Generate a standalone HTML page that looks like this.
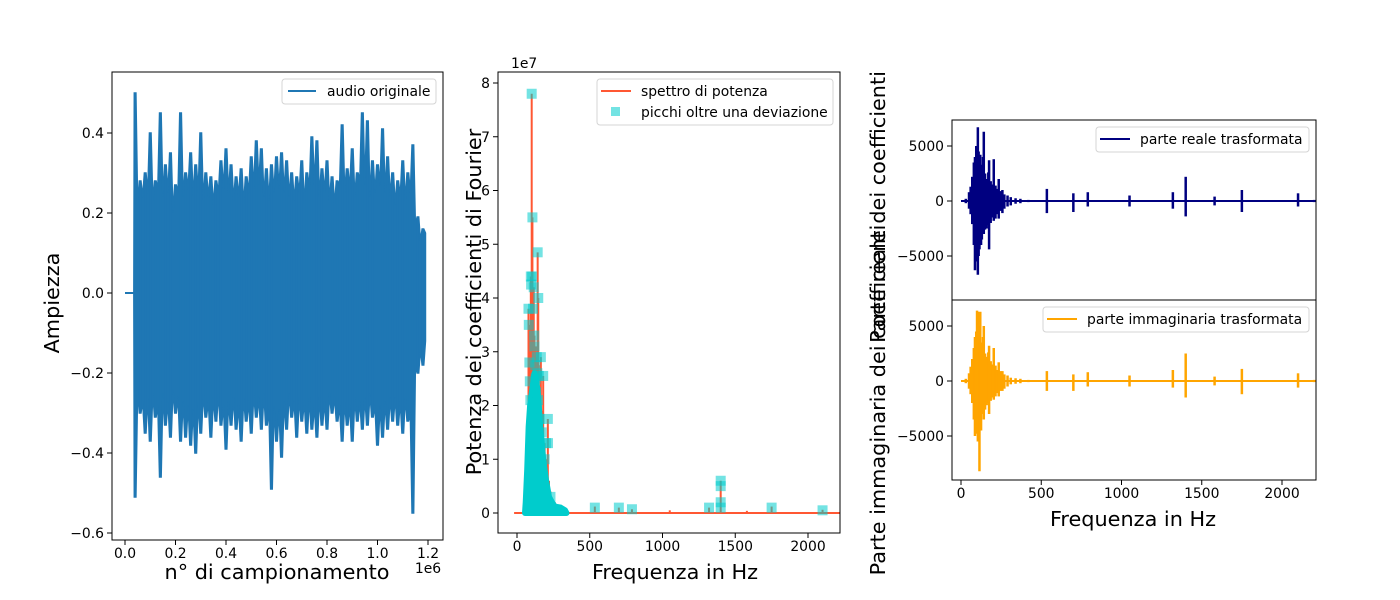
<!DOCTYPE html>
<html><head><meta charset="utf-8"><style>
html,body{margin:0;padding:0;background:#fff;}
svg{display:block;font-family:"DejaVu Sans","Liberation Sans",sans-serif;}
</style></head><body>
<svg id="fig" width="1400" height="600" viewBox="0 0 1400 600" xmlns="http://www.w3.org/2000/svg"></svg>
<script>
// ---------- Panel 1 data (audio) ----------
const audioX = [0.04,0.06,0.08,0.10,0.12,0.14,0.16,0.18,0.20,0.22,0.24,0.26,0.28,0.30,0.32,0.34,0.36,0.38,0.40,0.42,0.44,0.46,0.48,0.50,0.52,0.54,0.56,0.58,0.60,0.62,0.64,0.66,0.68,0.70,0.72,0.74,0.76,0.78,0.80,0.82,0.84,0.86,0.88,0.90,0.92,0.94,0.96,0.98,1.00,1.02,1.04,1.06,1.08,1.10,1.12,1.14,1.16,1.18];
const audioMax = [0.50,0.28,0.30,0.40,0.28,0.45,0.32,0.35,0.27,0.45,0.30,0.35,0.32,0.40,0.30,0.29,0.28,0.33,0.36,0.32,0.29,0.31,0.29,0.34,0.38,0.36,0.31,0.32,0.34,0.35,0.33,0.30,0.29,0.33,0.30,0.39,0.38,0.31,0.33,0.29,0.28,0.42,0.31,0.36,0.30,0.45,0.43,0.33,0.32,0.41,0.34,0.30,0.28,0.33,0.30,0.37,0.19,0.16];
const audioMin = [-0.51,-0.30,-0.35,-0.37,-0.31,-0.46,-0.33,-0.36,-0.30,-0.37,-0.36,-0.38,-0.40,-0.35,-0.31,-0.36,-0.32,-0.33,-0.39,-0.33,-0.34,-0.37,-0.32,-0.35,-0.31,-0.34,-0.33,-0.49,-0.37,-0.41,-0.34,-0.31,-0.36,-0.32,-0.35,-0.34,-0.36,-0.33,-0.34,-0.30,-0.32,-0.37,-0.33,-0.37,-0.32,-0.34,-0.33,-0.31,-0.38,-0.36,-0.34,-0.32,-0.33,-0.35,-0.32,-0.55,-0.20,-0.18];
// typical envelope level between the spikes (one per gap)
const audioCoreTop = [0.22,0.24,0.25,0.23,0.26,0.24,0.25,0.20,0.25,0.24,0.26,0.24,0.25,0.23,0.24,0.22,0.25,0.26,0.25,0.23,0.24,0.22,0.25,0.26,0.27,0.24,0.23,0.25,0.26,0.25,0.24,0.23,0.25,0.22,0.26,0.27,0.24,0.25,0.23,0.22,0.27,0.25,0.26,0.24,0.28,0.27,0.24,0.25,0.27,0.25,0.24,0.22,0.24,0.23,0.25,0.17,0.13];
const audioCoreBot = [-0.24,-0.27,-0.26,-0.25,-0.28,-0.25,-0.27,-0.24,-0.26,-0.27,-0.28,-0.29,-0.27,-0.25,-0.27,-0.26,-0.25,-0.28,-0.27,-0.26,-0.28,-0.26,-0.27,-0.25,-0.26,-0.25,-0.29,-0.28,-0.29,-0.27,-0.25,-0.27,-0.26,-0.27,-0.26,-0.28,-0.26,-0.27,-0.25,-0.26,-0.28,-0.27,-0.28,-0.26,-0.27,-0.26,-0.25,-0.28,-0.28,-0.27,-0.26,-0.26,-0.27,-0.26,-0.30,-0.18,-0.14];
const audioXTicks = [0,0.2,0.4,0.6,0.8,1.0,1.2];
const audioXTickLabels = ["0.0","0.2","0.4","0.6","0.8","1.0","1.2"];
const audioYTicks = [-0.6,-0.4,-0.2,0,0.2,0.4];
const audioYTickLabels = ["\u22120.6","\u22120.4","\u22120.2","0.0","0.2","0.4"];

// ---------- Panel 2 data (power spectrum, 1e7) ----------
const specFreq = [60,70,79,85,90,95,101,106,110,115,120,125,130,136,142,146,150,155,164,170,180,190,200,212,220,230,260,300,535,700,790,1050,1320,1400,1580,1750,2100];
const specPower = [0.8,1.6,3.8,2.8,3.5,4.4,7.8,5.5,3.8,4.2,3.3,2.5,3.1,2.9,4.85,4.0,2.75,2.3,2.9,1.9,2.55,1.3,1.0,1.75,0.6,0.4,0.2,0.1,0.12,0.1,0.07,0.05,0.1,0.6,0.04,0.12,0.06];
const peakFreq = [79,81,85,88,92,95,97,101,104,106,110,115,118,120,125,128,130,136,140,142,144,146,150,155,164,170,180,190,200,212,213,230,535,700,790,1320,1400,1400,1400,1400,1750,2100];
const peakPower = [3.8,3.5,2.8,2.45,2.1,4.4,4.25,7.8,4.4,5.5,3.8,4.2,3.3,3.1,2.75,2.5,2.25,2.9,2.6,4.85,2.1,4.0,2.55,1.75,2.9,1.5,2.55,1.0,1.3,1.75,1.3,0.3,0.1,0.1,0.07,0.1,0.6,0.5,0.2,0.1,0.1,0.05];
const blobFreq = [55,60,70,80,90,100,110,120,130,140,150,160,170,180,190,200,210,220,240,260,300,330,340];
const blobHeight = [0,0.2,0.8,1.6,2.0,2.2,2.4,2.6,2.5,2.3,2.0,1.6,1.3,1.0,0.8,0.6,0.45,0.3,0.2,0.12,0.1,0.05,0];
const specXTicks = [0,500,1000,1500,2000];
const specYTicks = [0,1,2,3,4,5,6,7,8];

// ---------- Panel 3 data (real / imaginary parts) ----------
const fftFreq = [30,50,60,70,80,87,95,100,105,110,115,120,125,130,137,142,150,160,170,175,185,195,204,215,225,235,245,258,270,290,310,340,370,420,535,700,790,1050,1320,1400,1580,1750,2100,2200];
const realMax = [200,800,1300,2200,3500,4000,5000,3900,6700,4500,3800,4200,3000,3300,4000,6300,2500,2000,2600,3700,1800,1500,3800,1400,1100,2000,900,1000,600,500,350,250,200,100,1100,700,800,500,800,2200,400,1000,700,100];
const realMin = [-200,-700,-1200,-2100,-4000,-6300,-5500,-3800,-6700,-5000,-4400,-3600,-4000,-3500,-2800,-3000,-2600,-2500,-2200,-4400,-2000,-1500,-1800,-1600,-1200,-1600,-900,-1100,-700,-500,-400,-250,-200,-100,-1100,-1000,-500,-500,-700,-1400,-400,-1000,-500,-100];
const imagMax = [200,700,1300,2000,3000,4000,4500,6400,6300,5000,4000,6300,3000,3500,4000,5000,2500,2200,2600,3200,1800,1500,3000,1400,1000,1700,900,900,600,500,300,250,200,100,900,600,800,500,1000,2500,400,1100,700,100];
const imagMin = [-200,-700,-1200,-2000,-3500,-5000,-4800,-3800,-5500,-4500,-8200,-3600,-4500,-3000,-3000,-3500,-2600,-2200,-2000,-3000,-1800,-1500,-1700,-1400,-1100,-1400,-900,-900,-700,-500,-300,-250,-200,-100,-900,-900,-500,-500,-600,-1500,-400,-1200,-600,-100];
const fftXTicks = [0,500,1000,1500,2000];
const fftYTicks = [-5000,0,5000];
const fftYTickLabels = ["\u22125000","0","5000"];

const NS = "http://www.w3.org/2000/svg";
const svg = document.getElementById('fig');
function mk(tag, attrs, parent, text){
  const e = document.createElementNS(NS, tag);
  for (const k in attrs) e.setAttribute(k, attrs[k]);
  if (text !== undefined) e.textContent = text;
  (parent || svg).appendChild(e);
  return e;
}
function lin(d0,d1,r0,r1){ return v => r0 + (v-d0)*(r1-r0)/(d1-d0); }

// ===== Panel 1 =====
const g1 = mk('g', {});


const x1 = lin(0,1.2,125,428), y1 = lin(0,0.4,293,133);
{
  let pts = [[x1(0),y1(0)],[x1(0.035),y1(0)]];
  audioX.forEach((v,i)=>{
    pts.push([x1(v)-0.8,y1(audioMax[i])],[x1(v)+0.8,y1(audioMax[i])]);
    if (i < audioCoreTop.length) pts.push([x1(v+0.01),y1(audioCoreTop[i])]);
  });
  pts.push([x1(1.19),y1(0.15)],[x1(1.19),y1(-0.12)]);
  for (let i=audioX.length-1;i>=0;i--) {
    if (i < audioCoreBot.length) pts.push([x1(audioX[i]+0.01),y1(audioCoreBot[i])]);
    pts.push([x1(audioX[i])+0.8,y1(audioMin[i])],[x1(audioX[i])-0.8,y1(audioMin[i])]);
  }
  pts.push([x1(0.035),y1(0)]);
  const p = mk('polygon', {points: pts.map(q=>q.join(',')).join(' '), fill:'#1f77b4', stroke:'#1f77b4', 'stroke-width':1.5, 'stroke-linejoin':'miter'}, g1);
  
  
  mk('line',{x1:x1(0),y1:y1(0),x2:x1(0.04),y2:y1(0),stroke:'#1f77b4','stroke-width':2},g1);
  audioX.forEach((v,i)=>{
    const l = mk('line',{x1:x1(v),y1:y1(audioMin[i]),x2:x1(v),y2:y1(audioMax[i]),stroke:'#1f77b4','stroke-width':2},g1);
    
    
  });
}
mk('rect',{x:112,y:72,width:331,height:468,fill:'none',stroke:'#000','stroke-width':1},g1);
audioXTicks.forEach((t,i)=>{
  mk('line',{x1:x1(t),y1:540,x2:x1(t),y2:545,stroke:'#000'},g1);
  const tx = mk('text',{x:x1(t),y:558,'font-size':13.9,'text-anchor':'middle'},g1,audioXTickLabels[i]);
  
  
});
audioYTicks.forEach((t,i)=>{
  mk('line',{x1:107,y1:y1(t),x2:112,y2:y1(t),stroke:'#000'},g1);
  const tx = mk('text',{x:104,y:y1(t)+5,'font-size':13.9,'text-anchor':'end'},g1,audioYTickLabels[i]);
  
  
});
mk('text',{x:428,y:573,'font-size':13.9,'text-anchor':'middle'},g1,'1e6');
let t;
t = mk('text',{x:277,y:579,'font-size':20.8,'text-anchor':'middle'},g1,'n\u00b0 di campionamento');
 
t = mk('text',{x:59,y:303,'font-size':20.8,'text-anchor':'middle',transform:'rotate(-90 59 303)'},g1,'Ampiezza');
 
{
  const lg = mk('g',{},g1);
   
  mk('rect',{x:282,y:79,width:154,height:25,rx:3,fill:'#fff',stroke:'#d5d5d5'},lg);
  mk('line',{x1:288,y1:91,x2:316,y2:91,stroke:'#1f77b4','stroke-width':2},lg);
  mk('text',{x:327,y:96,'font-size':13.9},lg,'audio originale');
}

// ===== Panel 2 =====
const g2 = mk('g', {});


const x2 = lin(0,2000,517,808), y2 = lin(0,8,513,83);
mk('line',{x1:x2(-20),y1:y2(0),x2:840,y2:y2(0),stroke:'#ff5733','stroke-width':2},g2);
specFreq.forEach((f,i)=>{
  const l = mk('line',{x1:x2(f),y1:y2(0),x2:x2(f),y2:y2(specPower[i]),stroke:'#ff5733','stroke-width':2},g2);
  
  
});
{
  let pts = blobFreq.map((f,i)=>[x2(f),y2(blobHeight[i])]);
  const p = mk('polygon',{points:pts.map(q=>q.join(',')).join(' '),fill:'#00cccc',stroke:'#00cccc','stroke-width':6,'stroke-linejoin':'round'},g2);
  
  
}
peakFreq.forEach((f,i)=>{
  const r = mk('rect',{x:x2(f)-5,y:y2(peakPower[i])-5,width:10,height:10,fill:'#00cccc','fill-opacity':0.55},g2);
  
  
});
mk('rect',{x:498,y:72,width:342,height:461,fill:'none',stroke:'#000'},g2);
specXTicks.forEach(v=>{
  mk('line',{x1:x2(v),y1:533,x2:x2(v),y2:538,stroke:'#000'},g2);
  const tx = mk('text',{x:x2(v),y:551,'font-size':13.9,'text-anchor':'middle'},g2,String(v));
   
});
specYTicks.forEach(v=>{
  mk('line',{x1:493,y1:y2(v),x2:498,y2:y2(v),stroke:'#000'},g2);
  const tx = mk('text',{x:490,y:y2(v)+5,'font-size':13.9,'text-anchor':'end'},g2,String(v));
   
});
mk('text',{x:511,y:68,'font-size':13.9},g2,'1e7');
t = mk('text',{x:675,y:579,'font-size':20.8,'text-anchor':'middle'},g2,'Frequenza in Hz');
 
t = mk('text',{x:481,y:302,'font-size':20.8,'text-anchor':'middle',transform:'rotate(-90 481 302)'},g2,'Potenza dei coefficienti di Fourier');
 
{
  const lg = mk('g',{},g2);
   
  mk('rect',{x:597,y:79,width:236,height:46,rx:3,fill:'#fff',stroke:'#d5d5d5'},lg);
  mk('line',{x1:601,y1:91,x2:631,y2:91,stroke:'#ff5733','stroke-width':2},lg);
  mk('text',{x:641,y:96,'font-size':13.9},lg,'spettro di potenza');
  mk('rect',{x:611,y:107,width:9,height:9,fill:'#00cccc','fill-opacity':0.55},lg);
  mk('text',{x:641,y:117,'font-size':13.9},lg,'picchi oltre una deviazione');
}

// ===== Panel 3 =====
function fftPanel(name, top, bottom, maxArr, minArr, color, legendText, lx, showX){
  const g = mk('g', {});
  
  
  const zero = top + 81;
  const x3 = lin(0,2000,961,1282), y3 = lin(0,5000,zero,zero-55);
  mk('line',{x1:x3(0),y1:y3(0),x2:1316,y2:y3(0),stroke:color,'stroke-width':2},g);
  fftFreq.forEach((f,i)=>{
    const l = mk('line',{x1:x3(f),y1:y3(minArr[i]),x2:x3(f),y2:y3(maxArr[i]),stroke:color,'stroke-width':2.5},g);
    
    
  });
  mk('rect',{x:952,y:top,width:364,height:bottom-top,fill:'none',stroke:'#000'},g);
  fftYTicks.forEach((v,i)=>{
    mk('line',{x1:947,y1:y3(v),x2:952,y2:y3(v),stroke:'#000'},g);
    const tx = mk('text',{x:944,y:y3(v)+5,'font-size':13.9,'text-anchor':'end'},g,fftYTickLabels[i]);
     
  });
  if (showX) fftXTicks.forEach(v=>{
    mk('line',{x1:x3(v),y1:bottom,x2:x3(v),y2:bottom+5,stroke:'#000'},g);
    const tx = mk('text',{x:x3(v),y:bottom+18,'font-size':13.9,'text-anchor':'middle'},g,String(v));
     
  });
  const lg = mk('g',{},g);
   
  mk('rect',{x:lx,y:top+7,width:1309-lx,height:25,rx:3,fill:'#fff',stroke:'#d5d5d5'},lg);
  mk('line',{x1:lx+4,y1:top+19,x2:lx+34,y2:top+19,stroke:color,'stroke-width':2},lg);
  mk('text',{x:lx+44,y:top+24,'font-size':13.9},lg,legendText);
}
fftPanel('real-part-panel',120,300,realMax,realMin,'#000080','parte reale trasformata',1096,false);
fftPanel('imaginary-part-panel',300,480,imagMax,imagMin,'#ffa500','parte immaginaria trasformata',1043,true);
t = mk('text',{x:1133,y:526,'font-size':20.8,'text-anchor':'middle'},svg,'Frequenza in Hz');
 
t = mk('text',{x:885,y:400,'font-size':20.8,'text-anchor':'middle',transform:'rotate(-90 885 400)'},svg,'Parte immaginaria dei coefficienti');
 
t = mk('text',{x:885,y:207,'font-size':20.8,'text-anchor':'middle',transform:'rotate(-90 885 207)'},svg,'Parte reale dei coefficienti');
 
</script>
</body></html>
